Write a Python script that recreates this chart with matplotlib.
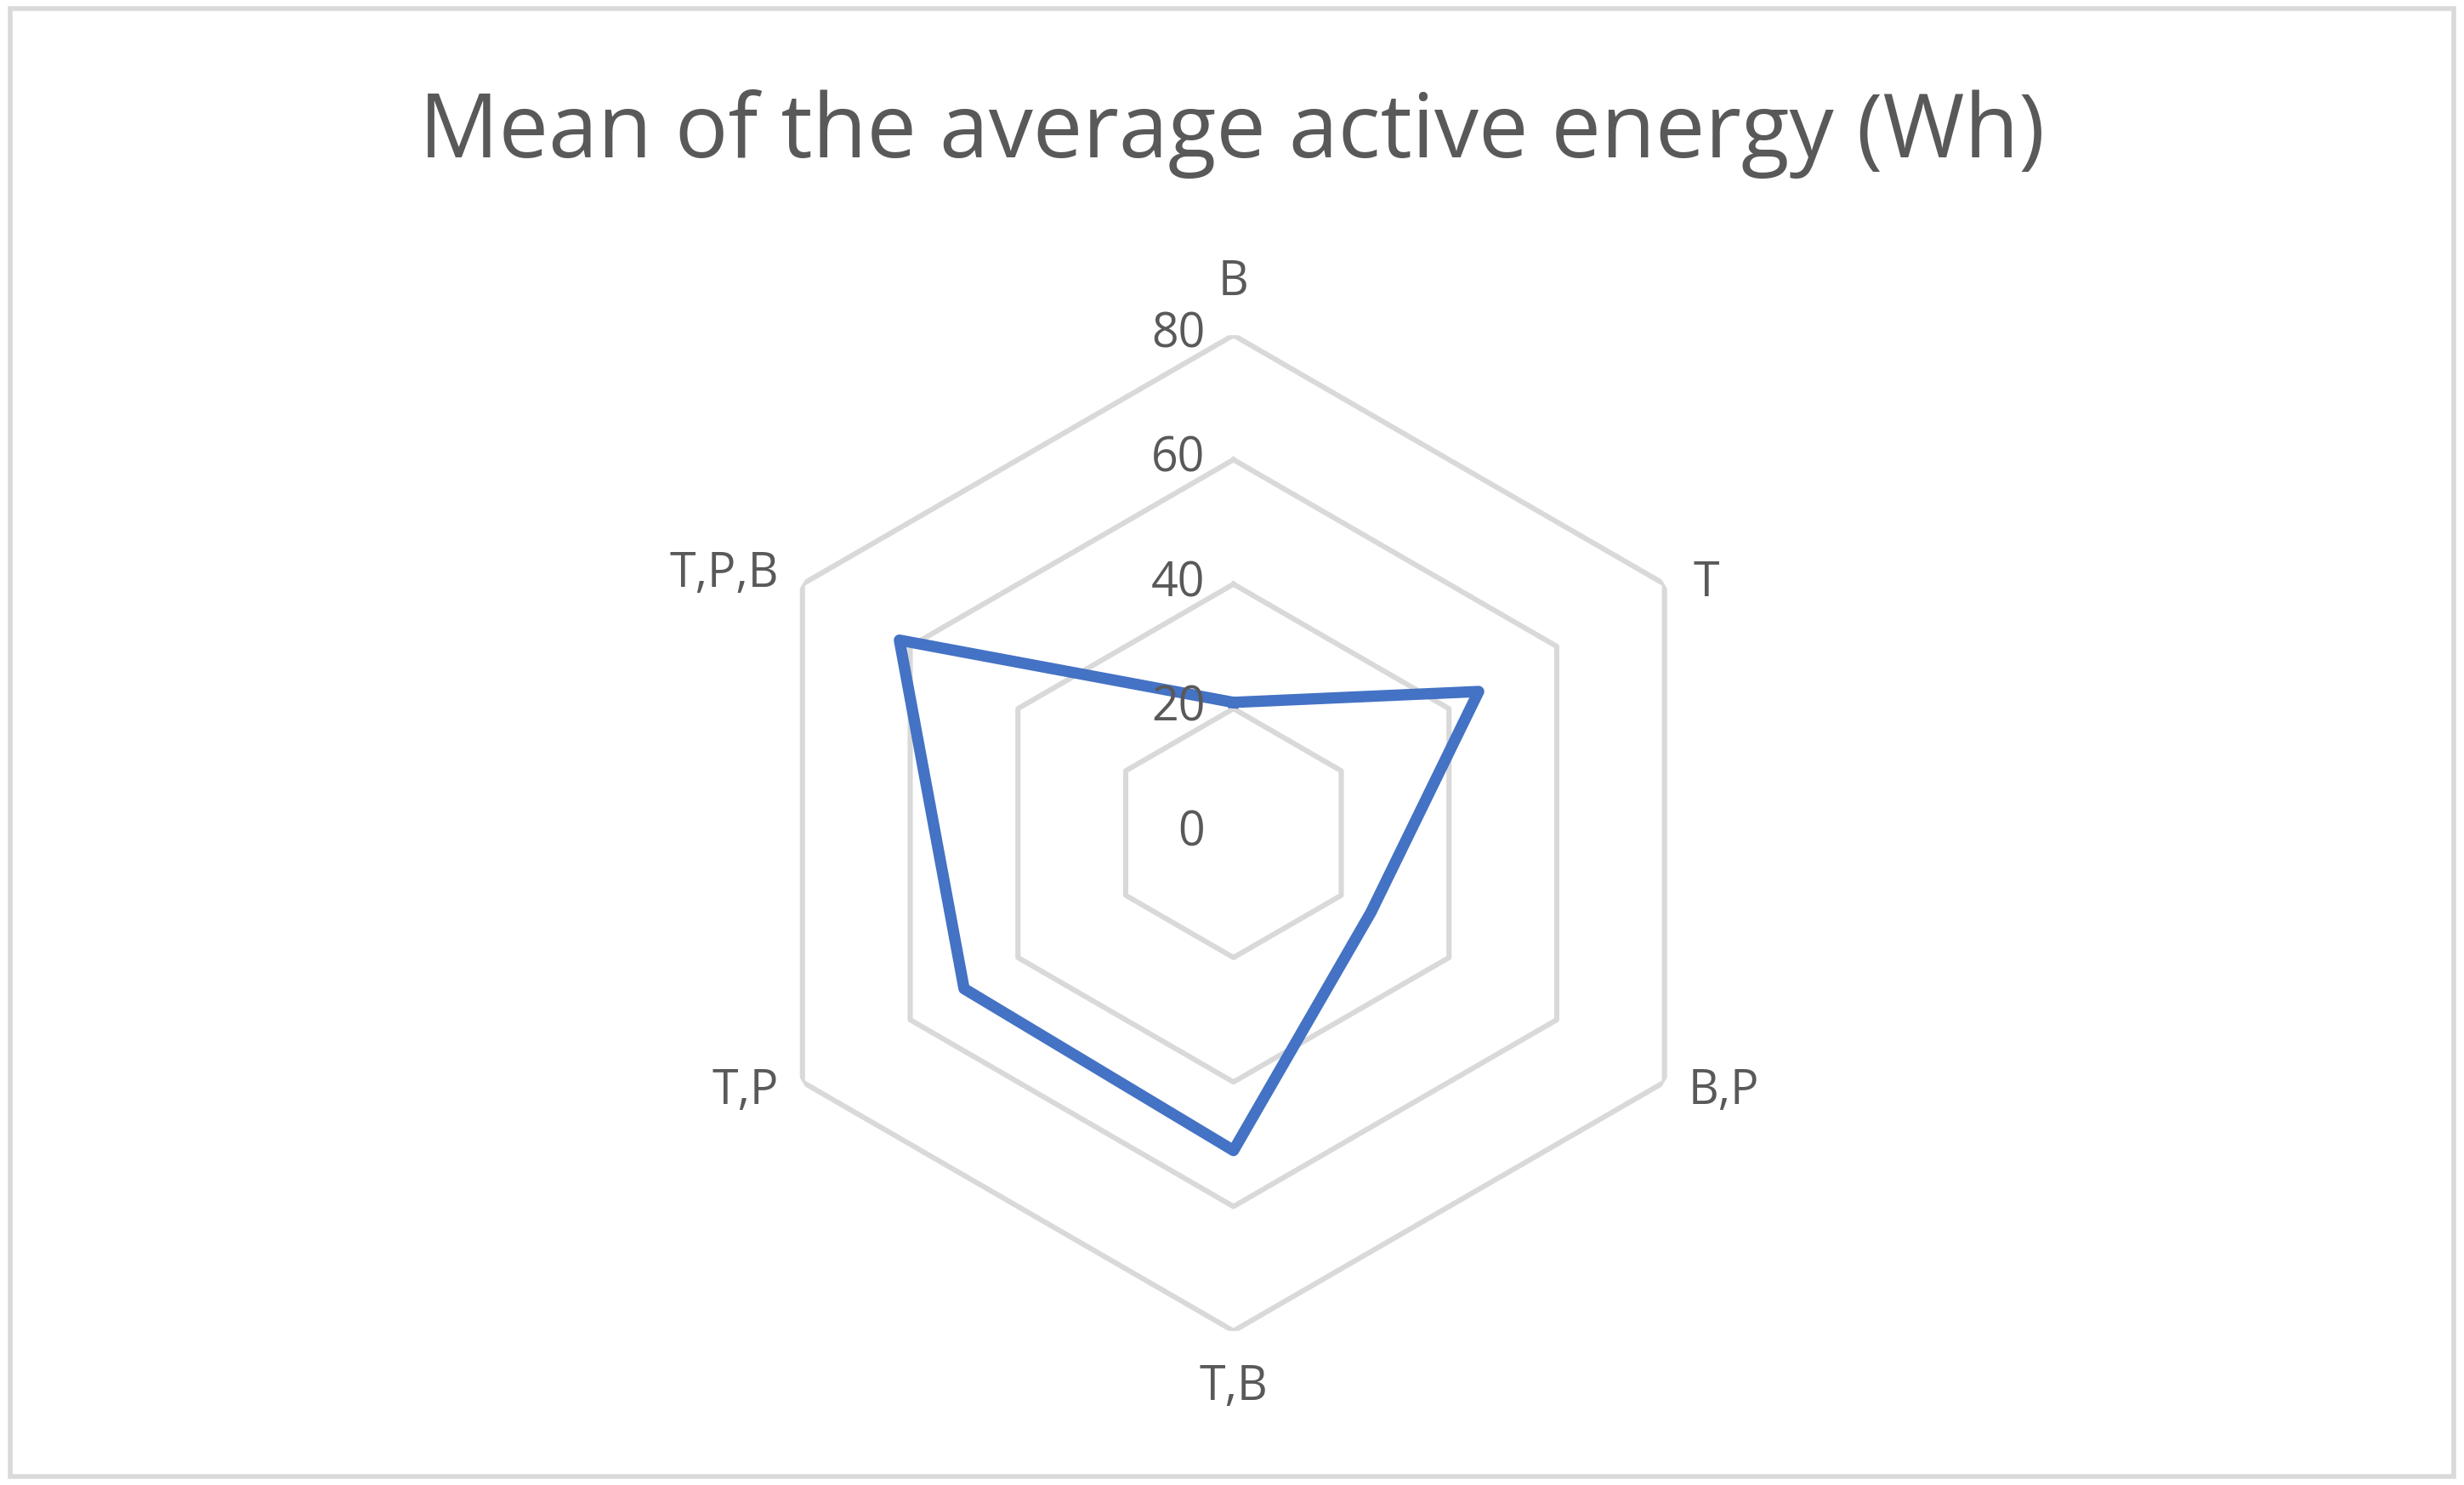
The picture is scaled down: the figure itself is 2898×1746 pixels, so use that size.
import numpy as np
import matplotlib
matplotlib.use("Agg")
import matplotlib.pyplot as plt
from matplotlib.patches import Rectangle

categories = ["B", "T", "B,P", "T,B", "T,P", "T,P,B"]
values = [21, 45.5, 25.5, 51, 50, 62]
ticks = [0, 20, 40, 60, 80]

fig = plt.figure(figsize=(14.49, 8.73), dpi=200)
fig.patches.append(Rectangle((0.004, 0.006), 0.992, 0.988, transform=fig.transFigure,
                             fill=False, edgecolor="#D9D9D9", lw=2))
fig.text(0.5, 0.91, "Mean of the average active energy (Wh)", ha="center", va="center",
         fontsize=37.5, color="#595959", family="Open Sans")

ax = fig.add_axes([0.2986, 0.1035, 0.404, 0.671], projection="polar")
ax.set_theta_zero_location("N")
ax.set_theta_direction(-1)
ax.set_ylim(0, 80)
ax.grid(False)
ax.spines["polar"].set_visible(False)
ax.set_xticks([]); ax.set_yticks([])
ax.patch.set_alpha(0)

n = len(categories)
th = np.linspace(0, 2 * np.pi, n, endpoint=False)
thc = np.append(th, th[0])
for t in ticks[1:]:
    ax.plot(thc, [t] * (n + 1), color="#D9D9D9", lw=2.2, zorder=1)
vc = values + values[:1]
ax.plot(thc, vc, color="#4472C4", lw=4.8, zorder=3, solid_joinstyle="round")

for t in ticks:
    ax.annotate(str(t), (0, t), xytext=(-12, 0), textcoords="offset points",
                ha="right", va="center", fontsize=20, color="#595959", family="Open Sans")

offs = [(0, 22), (12, 0), (10, -4), (0, -24), (-10, -4), (-10, 4)]
has = ["center", "left", "left", "center", "right", "right"]
for a, c, o, h in zip(th, categories, offs, has):
    ax.annotate(c, (a, 80), xytext=o, textcoords="offset points", ha=h,
                va="center", fontsize=20, color="#595959", family="Open Sans",
                annotation_clip=False)

fig.savefig("out.png", dpi=200)
